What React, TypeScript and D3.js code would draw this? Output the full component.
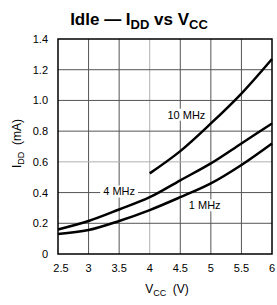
import React, { useEffect, useRef } from "react";
import * as d3 from "d3";

// supply voltage (V)
const vcc = [2.5, 3, 3.5, 4, 4.5, 5, 5.5, 6];
// idle supply current (mA) per clock
const idd1MHz = [0.13, 0.156, 0.215, 0.286, 0.37, 0.46, 0.58, 0.72];
const idd4MHz = [0.16, 0.215, 0.29, 0.37, 0.48, 0.59, 0.72, 0.85];
const vcc10 = [4, 4.5, 5, 5.5, 6];
const idd10MHz = [0.525, 0.67, 0.85, 1.045, 1.27];

const xTicks = [2.5, 3, 3.5, 4, 4.5, 5, 5.5, 6];
const xTickLabels = ["2.5", "3", "3.5", "4", "4.5", "5", "5.5", "6"];
const yTicks = [0, 0.2, 0.4, 0.6, 0.8, 1.0, 1.2, 1.4];
const yTickLabels = ["0", "0.2", "0.4", "0.6", "0.8", "1.0", "1.2", "1.4"];

const curveLabels = [
  { text: "10 MHz", v: 4.6, i: 0.9 },
  { text: "4 MHz", v: 3.5, i: 0.4 },
  { text: "1 MHz", v: 4.9, i: 0.31 },
];

export default function App() {
  const ref = useRef<SVGSVGElement>(null);

  useEffect(() => {
    const width = 277;
    const height = 305;
    const margin = { top: 39, right: 5, bottom: 51, left: 58 };
    const font = "'Liberation Sans', Arial, sans-serif";

    const svg = d3.select(ref.current);
    svg.selectAll("*").remove();

    const x = d3.scaleLinear([2.5, 6], [margin.left, width - margin.right]);
    const y = d3.scaleLinear([0, 1.4], [height - margin.bottom, margin.top]);

    // grid
    const g = svg.append("g");
    g.selectAll("line.v")
      .data(xTicks.slice(1, -1))
      .join("line")
      .attr("x1", d => x(d))
      .attr("x2", d => x(d))
      .attr("y1", y(0))
      .attr("y2", y(1.4))
      .attr("stroke", d => (d === 4 ? "#b0b0b0" : "#555"))
      .attr("stroke-width", 1);
    g.selectAll("line.h")
      .data(yTicks.slice(1, -1))
      .join("line")
      .attr("x1", x(2.5))
      .attr("x2", x(6))
      .attr("y1", d => y(d))
      .attr("y2", d => y(d))
      .attr("stroke", d => (Math.abs(d - 0.6) < 1e-9 ? "#b0b0b0" : "#555"))
      .attr("stroke-width", 1);

    // curve labels, with white boxes knocking out the grid
    const labels = svg.append("g");
    curveLabels.forEach(l => {
      const t = labels
        .append("text")
        .attr("x", x(l.v))
        .attr("y", y(l.i))
        .attr("text-anchor", "middle")
        .attr("dominant-baseline", "middle")
        .attr("font-family", font)
        .attr("font-size", 11)
        .attr("fill", "#000")
        .text(l.text);
      const bb = (t.node() as SVGTextElement).getBBox();
      labels
        .insert("rect", "text")
        .attr("x", bb.x - 3)
        .attr("y", bb.y)
        .attr("width", bb.width + 6)
        .attr("height", bb.height)
        .attr("fill", "#fff");
    });

    // curves
    const line = d3
      .line<[number, number]>()
      .x(d => x(d[0]))
      .y(d => y(d[1]))
      .curve(d3.curveCatmullRom.alpha(0.5));
    const series: [number, number][][] = [
      vcc.map((v, k) => [v, idd1MHz[k]]),
      vcc.map((v, k) => [v, idd4MHz[k]]),
      vcc10.map((v, k) => [v, idd10MHz[k]]),
    ];
    svg
      .append("g")
      .selectAll("path")
      .data(series)
      .join("path")
      .attr("d", d => line(d))
      .attr("fill", "none")
      .attr("stroke", "#000")
      .attr("stroke-width", 2.5);

    // frame
    svg
      .append("rect")
      .attr("x", x(2.5))
      .attr("y", y(1.4))
      .attr("width", x(6) - x(2.5))
      .attr("height", y(0) - y(1.4))
      .attr("fill", "none")
      .attr("stroke", "#000")
      .attr("stroke-width", 1.5);

    // tick labels
    svg
      .append("g")
      .selectAll("text")
      .data(xTicks)
      .join("text")
      .attr("x", d => x(d) + (d === 2.5 ? 3 : 0))
      .attr("y", y(0) + 18)
      .attr("text-anchor", "middle")
      .attr("font-family", font)
      .attr("font-size", 11)
      .text((d, k) => xTickLabels[k]);
    svg
      .append("g")
      .selectAll("text")
      .data(yTicks)
      .join("text")
      .attr("x", margin.left - 10)
      .attr("y", d => y(d) + 4)
      .attr("text-anchor", "end")
      .attr("font-family", font)
      .attr("font-size", 11)
      .text((d, k) => yTickLabels[k]);

    // axis titles
    const xt = svg
      .append("text")
      .attr("x", (x(2.5) + x(6)) / 2 + 2)
      .attr("y", 293)
      .attr("text-anchor", "middle")
      .attr("font-family", font)
      .attr("font-size", 12)
      .attr("xml:space", "preserve");
    xt.append("tspan").text("V");
    xt.append("tspan").attr("dy", 3).attr("font-size", 9).text("CC");
    xt.append("tspan").attr("dy", -3).text("  (V)");

    const yt = svg
      .append("text")
      .attr("transform", `translate(21, ${(y(0) + y(1.4)) / 2 - 3}) rotate(-90)`)
      .attr("text-anchor", "middle")
      .attr("font-family", font)
      .attr("font-size", 12)
      .attr("xml:space", "preserve");
    yt.append("tspan").text("I");
    yt.append("tspan").attr("dy", 3).attr("font-size", 9).text("DD");
    yt.append("tspan").attr("dy", -3).text("  (mA)");

    // title
    const title = svg
      .append("text")
      .attr("x", 139)
      .attr("y", 25)
      .attr("text-anchor", "middle")
      .attr("font-family", font)
      .attr("font-weight", "bold")
      .attr("font-size", 17)
      .attr("xml:space", "preserve");
    title.append("tspan").text("Idle \u2014 I");
    title.append("tspan").attr("dy", 4).attr("font-size", 13).text("DD");
    title.append("tspan").attr("dy", -4).text(" vs V");
    title.append("tspan").attr("dy", 4).attr("font-size", 13).text("CC");
  }, []);

  return (
    <svg
      ref={ref}
      width={277}
      height={305}
      style={{ position: "absolute", left: 0, top: 0, background: "#fff" }}
    />
  );
}
